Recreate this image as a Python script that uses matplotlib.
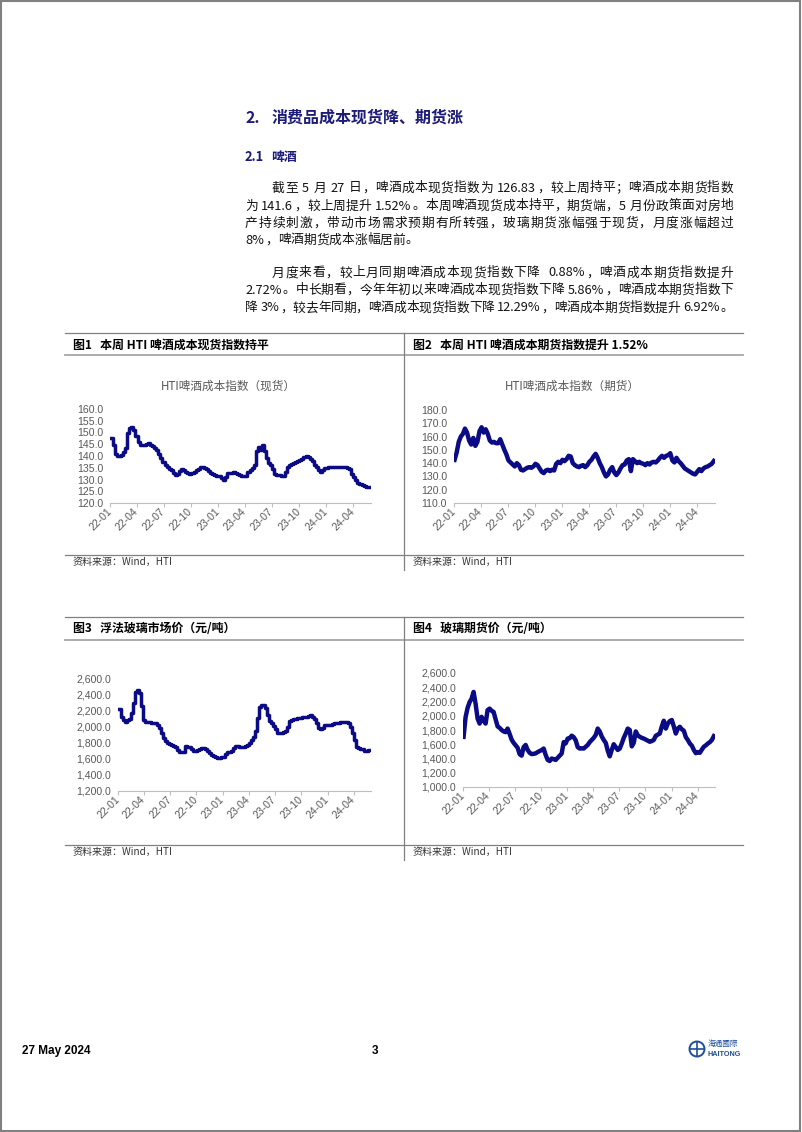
import re
import matplotlib
matplotlib.use('Agg')
import matplotlib.pyplot as plt
import matplotlib.dates as mdates
import numpy as np
import pandas as pd
from matplotlib.lines import Line2D
from matplotlib.patches import Circle, Rectangle

plt.rcParams['font.family'] = ['Noto Sans CJK SC', 'DejaVu Sans']

W, H = 802, 1132
NAVY = '#0b0b85'
BLUE = '#1c1c78'
GREY = '#595959'

# weekly data, 2022-01-03 .. 2024-05-27
weeks = pd.date_range('2022-01-03', '2024-05-27', freq='W-MON')

spot_beer = [147.6, 144.5, 141.0, 140.2, 140.0, 140.5, 141.5, 143.3, 149.7, 151.8,
             152.5, 151.0, 148.3, 146.0, 144.7, 144.7, 144.7, 145.0, 145.4, 144.8,
             144.2, 143.5, 142.6, 140.8, 139.0, 137.5, 136.0, 135.5, 134.5, 134.0,
             132.7, 132.0, 132.5, 133.5, 134.4, 134.0, 133.4, 132.8, 132.4, 132.6,
             133.4, 134.0, 134.6, 135.2, 135.5, 135.0, 134.4, 133.6, 132.8, 132.4,
             131.8, 131.4, 131.3, 130.6, 129.9, 131.0, 132.6, 132.7, 132.8, 133.4,
             132.8, 132.3, 132.0, 131.4, 131.3, 131.6, 133.0, 134.2, 134.8, 136.3,
             142.0, 144.0, 142.6, 144.7, 142.0, 139.0, 137.0, 136.0, 134.5, 132.5,
             132.0, 132.0, 131.7, 131.6, 133.0, 135.5, 136.0, 136.4, 137.0, 137.3,
             137.7, 138.2, 138.9, 139.5, 139.8, 139.6, 138.6, 137.7, 136.3, 135.3,
             134.2, 133.4, 134.2, 134.8, 135.0, 135.3, 135.3, 135.2, 135.3, 135.2,
             135.3, 135.2, 135.3, 135.2, 135.0, 134.3, 132.5, 131.0, 129.8, 128.5,
             128.0, 127.6, 127.1, 126.9, 126.83, 126.83]

fut_beer = [142.5, 148, 156, 160, 162, 166, 163, 157, 154, 159,
            153, 156, 164, 167, 163, 165.5, 162, 157, 155.5, 156,
            155, 155, 158, 154, 150, 146.5, 142, 140.5, 139, 137.5,
            140, 138.5, 135, 134.5, 135.5, 136.5, 137, 136.5, 137.5, 139.5,
            138.5, 136, 133.5, 132.5, 134.5, 135, 134, 135, 134.5, 139.5,
            141, 140, 142.5, 141.5, 143, 145.5, 145, 140, 138.5, 137.5,
            137, 138, 138.5, 137, 138.5, 141, 142.5, 145, 147, 144,
            140, 137, 133, 130, 131.5, 135, 137, 133, 131, 133,
            136, 138.5, 139, 142, 143, 134, 143, 141.5, 140, 141,
            140, 139.5, 138.5, 140, 139, 140.5, 141, 140.5, 142, 144,
            145.5, 144, 145.5, 146, 147.5, 142, 140.5, 144, 141.5, 140,
            138, 136, 135, 134, 133, 132, 131.5, 133.5, 135.5, 134,
            136, 137, 137.5, 138.5, 139.5, 141.6]

spot_glass = [2230, 2130, 2085, 2065, 2085, 2105, 2170, 2300, 2440, 2460,
              2420, 2260, 2090, 2065, 2060, 2058, 2056, 2055, 2050, 2030,
              1990, 1930, 1860, 1820, 1800, 1790, 1775, 1765, 1750, 1715,
              1685, 1685, 1690, 1760, 1755, 1745, 1720, 1705, 1705, 1712,
              1730, 1742, 1742, 1730, 1705, 1670, 1655, 1640, 1625, 1618,
              1617, 1620, 1630, 1660, 1690, 1692, 1705, 1740, 1763, 1760,
              1750, 1745, 1748, 1765, 1780, 1805, 1840, 1880, 1950, 2110,
              2250, 2275, 2280, 2240, 2150, 2080, 2045, 2010, 1975, 1930,
              1920, 1920, 1935, 1950, 2000, 2080, 2092, 2095, 2105, 2112,
              2116, 2120, 2122, 2128, 2140, 2150, 2125, 2100, 2046, 1990,
              1980, 1992, 2020, 2025, 2025, 2030, 2033, 2045, 2052, 2055,
              2058, 2060, 2065, 2066, 2055, 2005, 1925, 1840, 1755, 1735,
              1725, 1720, 1706, 1705, 1712, 1712]

fut_glass = [1704, 1980, 2110, 2190, 2240, 2334, 2170, 1960, 1890, 1985,
             1930, 1890, 2080, 2100, 2070, 2054, 1950, 1850, 1830, 1800,
             1780, 1770, 1820, 1745, 1665, 1620, 1585, 1550, 1460, 1440,
             1560, 1590, 1520, 1480, 1462, 1465, 1472, 1490, 1505, 1518,
             1540, 1450, 1380, 1365, 1400, 1390, 1380, 1410, 1440, 1470,
             1630, 1612, 1680, 1685, 1720, 1700, 1655, 1560, 1540, 1542,
             1540, 1565, 1590, 1630, 1660, 1690, 1730, 1820, 1780, 1710,
             1660, 1620, 1510, 1430, 1520, 1600, 1560, 1520, 1540, 1610,
             1690, 1750, 1820, 1800, 1570, 1620, 1780, 1725, 1705, 1690,
             1680, 1665, 1650, 1635, 1645, 1660, 1720, 1735, 1750, 1850,
             1930, 1820, 1890, 1925, 1940, 1850, 1750, 1820, 1845, 1810,
             1790, 1700, 1660, 1610, 1580, 1520, 1475, 1490, 1480, 1525,
             1565, 1585, 1610, 1630, 1660, 1714]

para1 = ["截至 5 月 27 日，啤酒成本现货指数为 126.83，较上周持平；啤酒成本期货指数",
         "为 141.6，较上周提升 1.52%。本周啤酒现货成本持平，期货端，5 月份政策面对房地",
         "产持续刺激，带动市场需求预期有所转强，玻璃期货涨幅强于现货，月度涨幅超过",
         "8%，啤酒期货成本涨幅居前。"]
para2 = ["月度来看，较上月同期啤酒成本现货指数下降  0.88%，啤酒成本期货指数提升",
         "2.72%。中长期看，今年年初以来啤酒成本现货指数下降 5.86%，啤酒成本期货指数下",
         "降 3%，较去年同期，啤酒成本现货指数下降 12.29%，啤酒成本期货指数提升 6.92%。"]

fig = plt.figure(figsize=(W / 100, H / 100), dpi=100)
renderer = fig.canvas.get_renderer()


def ftext(x, y, s, **kw):
    kw.setdefault('va', 'center')
    return fig.text(x / W, 1 - y / H, s, **kw)


def hline(x0, x1, y, color, lw):
    fig.add_artist(Line2D([x0 / W, x1 / W], [1 - y / H, 1 - y / H],
                          transform=fig.transFigure, color=color, lw=lw))


def vline(x, y0, y1, color, lw):
    fig.add_artist(Line2D([x / W, x / W], [1 - y0 / H, 1 - y1 / H],
                          transform=fig.transFigure, color=color, lw=lw))


# page border
fig.add_artist(Rectangle((0.001, 0.001), 0.997, 0.998, transform=fig.transFigure,
                         fill=False, ec='#808080', lw=1.5))

# headings
ftext(245, 118, '2.', fontsize=11.5, fontweight='bold', color=BLUE)
ftext(272, 118, '消费品成本现货降、期货涨', fontsize=11.5, fontweight='bold', color=BLUE)
ftext(245, 157, '2.1', fontsize=9.3, fontweight='bold', color=BLUE)
ftext(271, 157, '啤酒', fontsize=9.3, fontweight='bold', color=BLUE)

BODY_PT = 9.2
EM = BODY_PT * 100 / 72


def body_line(x0, x1, y, line, justify=True):
    toks = re.findall(r'[A-Za-z0-9.%]+| |.', line)
    widths = []
    for tk in toks:
        if tk == ' ':
            widths.append(EM * 0.25)
        elif ord(tk[0]) > 127:
            widths.append(EM)
        else:
            t = fig.text(0, 0, tk, fontsize=BODY_PT)
            widths.append(t.get_window_extent(renderer).width + 1)
            t.remove()
    gap = (x1 - x0 - sum(widths)) / (len(toks) - 1) if justify else 0
    x = x0
    for tk, w in zip(toks, widths):
        if tk != ' ':
            ftext(x, y, tk, fontsize=BODY_PT, ha='left', color='#111111')
        x += w + gap


RIGHT = 733
for i, (line, y) in enumerate(zip(para1, [188, 206, 223, 240])):
    body_line(272 if i == 0 else 245, RIGHT, y, line, justify=i < 3)
for i, (line, y) in enumerate(zip(para2, [273, 290, 308])):
    body_line(272 if i == 0 else 245, RIGHT, y, line, justify=True)

# panel frames
for top, ul, src, bottom in [(333, 355, 555, 570), (617, 640, 845, 860)]:
    hline(65, 743, top, '#808080', 0.9)
    hline(65, 743, ul, '#a6a6a6', 1.3)
    hline(65, 743, src, '#808080', 0.9)
    vline(404, top, bottom, '#808080', 0.9)
    ftext(73, src + 7, '资料来源：Wind，HTI', fontsize=7.2, color='#333333')
    ftext(413, src + 7, '资料来源：Wind，HTI', fontsize=7.2, color='#333333')

ftext(73, 345, '图1   本周 HTI 啤酒成本现货指数持平', fontsize=8.6, fontweight='bold')
ftext(413, 345, '图2   本周 HTI 啤酒成本期货指数提升 1.52%', fontsize=8.6, fontweight='bold')
ftext(73, 628, '图3   浮法玻璃市场价（元/吨）', fontsize=8.6, fontweight='bold')
ftext(413, 628, '图4   玻璃期货价（元/吨）', fontsize=8.6, fontweight='bold')

ftext(228, 386, 'HTI啤酒成本指数（现货）', fontsize=8.4, color=GREY, ha='center')
ftext(572, 386, 'HTI啤酒成本指数（期货）', fontsize=8.4, color=GREY, ha='center')


def chart(box, values, ylo, yhi, step, fmt, steps, lw):
    l, t, r, b = box
    ax = fig.add_axes([l / W, 1 - b / H, (r - l) / W, (b - t) / H])
    ax.plot(weeks, values, color=NAVY, lw=lw,
            drawstyle='steps-post' if steps else 'default', solid_joinstyle='round')
    ax.set_ylim(ylo, yhi)
    ax.set_yticks(np.arange(ylo, yhi + step / 2, step))
    ax.yaxis.set_major_formatter(plt.FuncFormatter(lambda v, p: fmt.format(v)))
    ax.set_xlim(pd.Timestamp('2022-01-01'), pd.Timestamp('2024-05-31'))
    ax.xaxis.set_major_locator(mdates.MonthLocator(bymonth=[1, 4, 7, 10]))
    ax.xaxis.set_major_formatter(mdates.DateFormatter('%y-%m'))
    for s in ['top', 'right', 'left']:
        ax.spines[s].set_visible(False)
    ax.spines['bottom'].set_color('#bfbfbf')
    ax.tick_params(axis='y', length=0, labelsize=7.6, labelcolor=GREY, pad=5)
    ax.tick_params(axis='x', length=3, color='#bfbfbf', labelsize=7.6, labelcolor=GREY, pad=2)
    for lbl in ax.get_xticklabels():
        lbl.set_rotation(45)
        lbl.set_ha('right')
        lbl.set_va('center')
        lbl.set_rotation_mode('anchor')
        lbl.set_fontfamily(['Liberation Sans', 'DejaVu Sans'])
    for lbl in ax.get_yticklabels():
        lbl.set_fontfamily(['Liberation Sans', 'DejaVu Sans'])
    ax.patch.set_alpha(0)
    return ax


chart((110, 409, 371, 503), spot_beer, 120, 160, 5, '{:.1f}', True, 2.5)
chart((454, 410, 715, 503), fut_beer, 110, 180, 10, '{:.1f}', False, 3.2)
chart((118, 679, 371, 791), spot_glass, 1200, 2600, 200, '{:,.1f}', True, 2.5)
chart((463, 673, 715, 787), fut_glass, 1000, 2600, 200, '{:,.1f}', False, 3.2)

# footer
ftext(22, 1051, '27 May 2024', fontsize=8.5, fontweight='bold',
      family=['Liberation Sans', 'DejaVu Sans'])
ftext(372, 1051, '3', fontsize=8.5, fontweight='bold',
      family=['Liberation Sans', 'DejaVu Sans'])
fig.add_artist(Circle((697 / 100, (H - 1049) / 100), 0.075, transform=fig.dpi_scale_trans,
                      fc='white', ec='#1f4e9c', lw=1.4))
fig.add_artist(Line2D([6.90, 7.04], [(H - 1049) / 100] * 2, transform=fig.dpi_scale_trans,
                      color='#1f4e9c', lw=1.2))
fig.add_artist(Line2D([6.97, 6.97], [(H - 1056) / 100, (H - 1042) / 100],
                      transform=fig.dpi_scale_trans, color='#1f4e9c', lw=1.2))
ftext(708, 1044, '海通國際', fontsize=5.5, color='#1f4e9c', ha='left')
ftext(708, 1054, 'HAITONG', fontsize=5.2, fontweight='bold', color='#1f4e9c', ha='left',
      family=['Liberation Sans', 'DejaVu Sans'])

fig.savefig('out.png', dpi=100)
